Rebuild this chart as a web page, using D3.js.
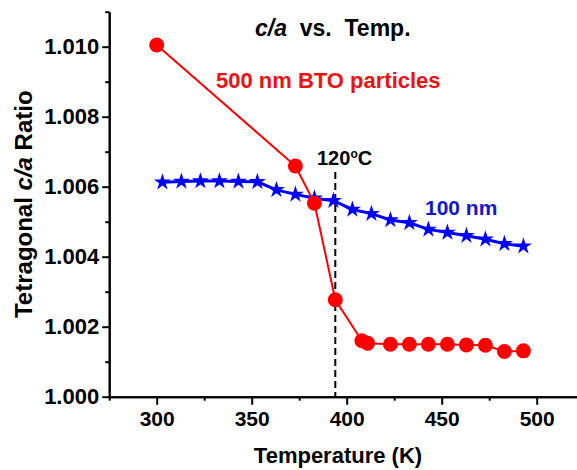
<!DOCTYPE html>
<html>
<head>
<meta charset="utf-8">
<script src="https://cdn.jsdelivr.net/npm/d3@7"></script>
<style>
  html, body { margin: 0; padding: 0; background: #fff; }
  svg { display: block; font-family: "Liberation Sans", Arial, sans-serif; font-weight: bold; }
</style>
</head>
<body>
<svg id="chart" width="577" height="470"></svg>
<script>
// 500 nm BTO particles: temperature (K) and c/a ratio
const redTemps  = [300, 373, 383, 394, 408, 411, 423, 433, 443, 453, 463, 473, 483, 493];
const redRatios = [1.01005, 1.00659, 1.00553, 1.00277, 1.00160, 1.00153, 1.00150, 1.00150,
                   1.00150, 1.00150, 1.00148, 1.00147, 1.00129, 1.00131];

// 100 nm particles
const blueTemps  = [303, 313, 323, 333, 343, 353, 363, 373, 383, 393,
                    403, 413, 423, 433, 443, 453, 463, 473, 483, 493];
const blueRatios = [1.00613, 1.00615, 1.00616, 1.00616, 1.00615, 1.00614, 1.00591, 1.00578,
                    1.00567, 1.00560, 1.00535, 1.00523, 1.00505, 1.00497, 1.00478, 1.00469,
                    1.00460, 1.00450, 1.00437, 1.00430];

// Axis ticks
const xMajor = [300, 350, 400, 450, 500];
const xMinor = [275, 325, 375, 425, 475, 525];
const yMajor = [1.000, 1.002, 1.004, 1.006, 1.008, 1.010];
const yMinor = [1.001, 1.003, 1.005, 1.007, 1.009, 1.011];

// Curie transition marker (120 °C)
const transitionT = 394;

const svg = d3.select("#chart");

const x = d3.scaleLinear().domain([275, 525]).range([109.2, 584.2]);
const y = d3.scaleLinear().domain([1.000, 1.011]).range([396.7, 11.7]);

// Axes
const axisStyle = size => g => {
  g.select(".domain").attr("stroke", "#000").attr("stroke-width", 2);
  g.selectAll(".tick line").attr("stroke", "#000").attr("stroke-width", 2);
  g.selectAll(".tick text").attr("fill", "#000")
    .style("font-size", size + "px").style("font-weight", "bold")
    .style("font-family", "'Liberation Sans', Arial, sans-serif");
};

svg.append("g").attr("transform", `translate(0,${y(1.000)})`)
  .call(d3.axisBottom(x).tickValues(xMinor).tickSize(4).tickSizeOuter(0).tickFormat(""))
  .call(axisStyle(21));
svg.append("g").attr("transform", `translate(0,${y(1.000)})`)
  .call(d3.axisBottom(x).tickValues(xMajor).tickSize(8).tickSizeOuter(0).tickPadding(6).tickFormat(d3.format("d")))
  .call(axisStyle(21));

svg.append("g").attr("transform", `translate(${x(275)},0)`)
  .call(d3.axisLeft(y).tickValues(yMinor).tickSize(4).tickSizeOuter(0).tickFormat(""))
  .call(axisStyle(22));
svg.append("g").attr("transform", `translate(${x(275)},0)`)
  .call(d3.axisLeft(y).tickValues(yMajor).tickSize(7).tickSizeOuter(0).tickPadding(3).tickFormat(d3.format(".3f")))
  .call(axisStyle(22));

// Dashed line at the transition temperature
svg.append("line")
  .attr("x1", x(transitionT)).attr("x2", x(transitionT))
  .attr("y1", 172).attr("y2", y(1.000))
  .attr("stroke", "#000").attr("stroke-width", 2)
  .attr("stroke-dasharray", "7,4");

// 100 nm series: blue line with stars
const blueData = blueTemps.map((t, i) => [t, blueRatios[i]]);
const line = d3.line().x(d => x(d[0])).y(d => y(d[1]));
svg.append("path").datum(blueData)
  .attr("d", line).attr("fill", "none")
  .attr("stroke", "#0000ff").attr("stroke-width", 3);
const star = d3.symbol().type(d3.symbolStar).size(90);
svg.append("g").selectAll("path").data(blueData).join("path")
  .attr("d", star)
  .attr("transform", d => `translate(${x(d[0])},${y(d[1])})`)
  .attr("fill", "#0000ff");

// 500 nm series: red line with circles
const redData = redTemps.map((t, i) => [t, redRatios[i]]);
svg.append("path").datum(redData)
  .attr("d", line).attr("fill", "none")
  .attr("stroke", "#ff0000").attr("stroke-width", 2);
svg.append("g").selectAll("circle").data(redData).join("circle")
  .attr("cx", d => x(d[0])).attr("cy", d => y(d[1]))
  .attr("r", 7.5).attr("fill", "#ff0000");

// Title
const title = svg.append("text").attr("x", 255).attr("y", 36)
  .style("font-size", "23px").attr("xml:space", "preserve");
title.append("tspan").style("font-style", "italic").text("c/a");
title.append("tspan").text("  vs.  Temp.");

// Series labels
svg.append("text").attr("x", 216).attr("y", 88)
  .attr("fill", "#ee1111").style("font-size", "22px")
  .text("500 nm BTO particles");
svg.append("text").attr("x", 425).attr("y", 215)
  .attr("fill", "#1515d0").style("font-size", "21px")
  .text("100 nm");

// Transition label
const tl = svg.append("text").attr("x", 317).attr("y", 165).style("font-size", "20px");
tl.append("tspan").text("120");
tl.append("tspan").attr("dy", -7).style("font-size", "12px").text("o");
tl.append("tspan").attr("dy", 7).text("C");

// Axis titles
svg.append("text").attr("x", 338).attr("y", 463)
  .attr("text-anchor", "middle").style("font-size", "22px")
  .text("Temperature (K)");
const yt = svg.append("text")
  .attr("transform", `translate(32,${(y(1.000) + y(1.011)) / 2}) rotate(-90)`)
  .attr("text-anchor", "middle").style("font-size", "24px");
yt.append("tspan").text("Tetragonal ");
yt.append("tspan").style("font-style", "italic").text("c/a");
yt.append("tspan").text(" Ratio");
</script>
</body>
</html>
